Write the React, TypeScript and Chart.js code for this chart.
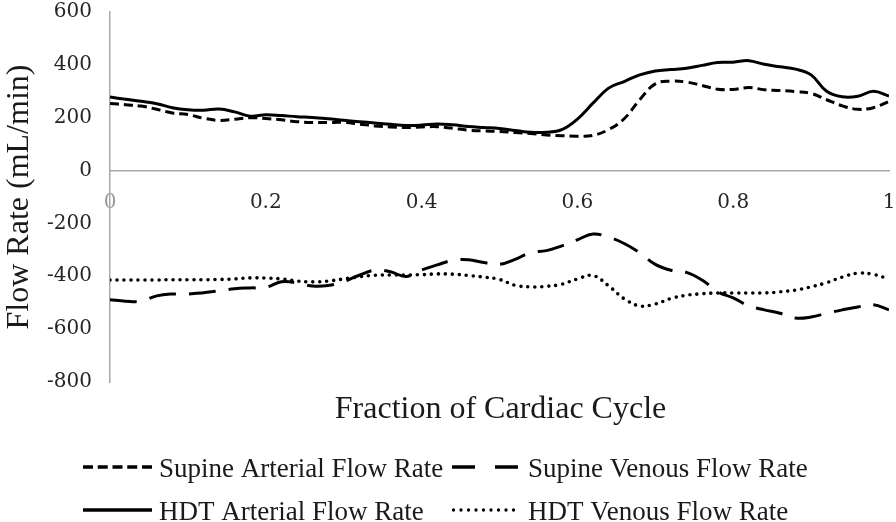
import React, { useEffect, useRef } from "react";
import { Chart, registerables } from "chart.js";

Chart.register(...registerables);

// Fraction of cardiac cycle (x positions of the samples)
const fraction = [
  0, 0.02, 0.04, 0.06, 0.08, 0.1, 0.12, 0.14, 0.16, 0.18,
  0.2, 0.22, 0.24, 0.26, 0.28, 0.3, 0.32, 0.34, 0.36, 0.38,
  0.4, 0.42, 0.44, 0.46, 0.48, 0.5, 0.52, 0.54, 0.56, 0.58,
  0.6, 0.62, 0.64, 0.66, 0.68, 0.7, 0.72, 0.74, 0.76, 0.78,
  0.8, 0.82, 0.84, 0.86, 0.88, 0.9, 0.92, 0.94, 0.96, 0.98, 1,
];

const supineArterial = [
  254, 249, 244, 232, 218, 212, 198, 190, 194, 200,
  197, 192, 185, 182, 182, 182, 176, 169, 165, 163,
  165, 166, 160, 153, 150, 148, 144, 140, 135, 132,
  130, 133, 155, 196, 268, 328, 338, 335, 322, 308,
  307, 314, 306, 303, 299, 292, 268, 245, 232, 238, 262,
];

const supineVenous = [
  -489, -494, -494, -474, -467, -467, -462, -455, -447, -444,
  -442, -421, -425, -437, -435, -420, -396, -377, -383, -401,
  -376, -357, -340, -337, -348, -355, -336, -310, -303, -285,
  -262, -240, -252, -276, -311, -355, -377, -385, -414, -458,
  -482, -512, -527, -540, -558, -554, -540, -527, -516, -508, -527,
];

const hdtArterial = [
  278, 270, 262, 253, 238, 230, 228, 233, 222, 206,
  211, 208, 204, 201, 196, 190, 185, 180, 175, 171,
  172, 176, 173, 167, 163, 159, 152, 145, 145, 155,
  195, 255, 312, 337, 362, 377, 382, 387, 398, 409,
  410, 416, 402, 393, 384, 362, 300, 279, 281, 300, 282,
];

const hdtVenous = [
  -414, -414, -414, -414, -413, -413, -413, -412, -410, -406,
  -407, -410, -418, -421, -418, -410, -402, -396, -395, -395,
  -394, -391, -392, -397, -403, -412, -434, -440, -438, -430,
  -410, -397, -436, -485, -512, -505, -484, -472, -466, -463,
  -463, -463, -463, -459, -452, -440, -424, -403, -388, -393, -410,
];

const seriesNames = [
  "Supine Arterial Flow Rate",
  "Supine Venous Flow Rate",
  "HDT Arterial Flow Rate",
  "HDT Venous Flow Rate",
];
const xTitle = "Fraction of Cardiac Cycle";
const yTitle = "Flow Rate (mL/min)";
const xMin = 0;
const xMax = 1;
const xStep = 0.2;
const yMin = -800;
const yMax = 600;
const yStep = 200;

const AXIS_GREY = "#a9a9a9";
const TEXT = "#1a1a1a";
const TICK_TEXT = "#262626";

type Style = { dash: number[]; cap: CanvasLineCap; width: number; legendDash: number[] };
const styles: Style[] = [
  { dash: [9, 5], cap: "butt", width: 3, legendDash: [10, 4.75] },
  { dash: [27, 13], cap: "butt", width: 3, legendDash: [23, 20] },
  { dash: [], cap: "butt", width: 3, legendDash: [] },
  { dash: [0, 7], cap: "round", width: 3.6, legendDash: [0, 7.5] },
];

const textPlugin = {
  id: "customText",
  afterDraw(chart: any) {
    const { ctx, chartArea } = chart;
    ctx.save();
    ctx.fillStyle = TEXT;
    // x axis title
    ctx.font = '32px "Liberation Serif"';
    ctx.textAlign = "center";
    ctx.textBaseline = "alphabetic";
    ctx.fillText(xTitle, (chartArea.left + chartArea.right) / 2 + 1, chartArea.bottom + 36);
    // y axis title
    ctx.save();
    ctx.translate(28, (chartArea.top + chartArea.bottom) / 2);
    ctx.rotate(-Math.PI / 2);
    ctx.fillText(yTitle, 0, 0);
    ctx.restore();

    // legend (2 x 2)
    const colX = [83, 452];
    const rowY = [467, 510];
    const sampleW = 69;
    ctx.font = '27px "Liberation Serif"';
    ctx.textAlign = "left";
    seriesNames.forEach((name, i) => {
      const col = i % 2;
      const row = Math.floor(i / 2);
      const st = styles[i];
      const x0 = colX[col];
      const y = rowY[row];
      ctx.save();
      ctx.strokeStyle = "#000";
      ctx.lineWidth = st.cap === "round" ? 3.3 : 3.5;
      ctx.lineCap = st.cap;
      ctx.setLineDash(st.legendDash);
      ctx.beginPath();
      ctx.moveTo(x0 + (st.cap === "round" ? 1.5 : 0), y);
      ctx.lineTo(x0 + sampleW, y);
      ctx.stroke();
      ctx.restore();
      ctx.fillStyle = TEXT;
      ctx.fillText(name, x0 + sampleW + 7, y + 10);
    });
    ctx.restore();
  },
};

const zeroPadding = (scale: any) => {
  scale.paddingTop = 0;
  scale.paddingBottom = 0;
  scale.paddingLeft = 0;
  scale.paddingRight = 0;
};

export default function App() {
  const canvasRef = useRef<HTMLCanvasElement | null>(null);

  useEffect(() => {
    document.body.style.margin = "0";
    const canvas = canvasRef.current;
    if (!canvas) return;
    const valueSets = [supineArterial, supineVenous, hdtArterial, hdtVenous];
    const chart = new Chart(canvas, {
      type: "line",
      data: {
        datasets: valueSets.map((vals, i) => ({
          label: seriesNames[i],
          data: fraction.map((f, j) => ({ x: f, y: vals[j] })),
          borderColor: "#000",
          borderWidth: styles[i].width,
          borderDash: styles[i].dash,
          borderCapStyle: styles[i].cap,
          pointRadius: 0,
          tension: 0.4,
          fill: false,
        })),
      },
      options: {
        animation: false,
        responsive: false,
        devicePixelRatio: 1,
        layout: { padding: { left: 0, right: 7, top: 12, bottom: 140 } },
        plugins: { legend: { display: false }, tooltip: { enabled: false } },
        scales: {
          x: {
            type: "linear",
            min: xMin,
            max: xMax,
            position: { y: 0 } as any,
            grid: { display: false, drawTicks: false },
            border: { display: true, color: AXIS_GREY, width: 1.5 },
            ticks: {
              stepSize: xStep,
              padding: 20,
              color: (c: any) => (c.index === 0 ? "#9a9a9a" : TICK_TEXT),
              font: { family: '"DejaVu Serif"', size: 20 },
              maxRotation: 0,
              callback: (v: any) => String(Number(Number(v).toFixed(1))),
            },
            afterFit: zeroPadding,
          },
          y: {
            type: "linear",
            min: yMin,
            max: yMax,
            grid: { display: false, drawTicks: false },
            border: { display: true, color: AXIS_GREY, width: 1.5 },
            ticks: {
              stepSize: yStep,
              padding: 18,
              color: TICK_TEXT,
              font: { family: '"DejaVu Serif"', size: 20 },
            },
            afterFit: (scale: any) => {
              scale.width = 110;
              zeroPadding(scale);
            },
          },
        },
      },
      plugins: [textPlugin],
    });
    return () => chart.destroy();
  }, []);

  return (
    <div style={{ width: 896, height: 522 }}>
      <canvas ref={canvasRef} width={896} height={522} />
    </div>
  );
}
